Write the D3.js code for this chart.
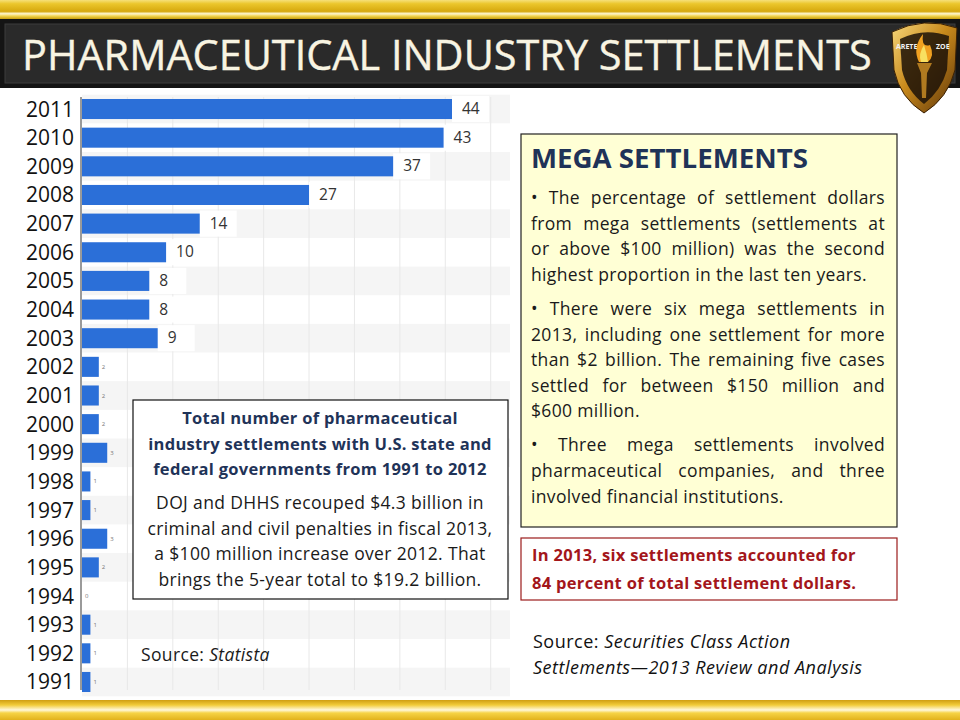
<!DOCTYPE html>
<html lang="en">
<head>
    <meta charset="UTF-8">
    <title>Pharmaceutical Industry Settlements</title>
    <script src="https://d3js.org/d3.v7.min.js"></script>
    <style>
        body { margin: 0; background: #fff; }
        svg { display: block; }
        text { font-family: "Open Sans", "Noto Sans", sans-serif; }
        .year { font-size: 21px; fill: #111; text-anchor: end; }
        .big-label { font-size: 15.5px; fill: #333; }
        .small-label { font-size: 6px; fill: #777; }
        .body { font-size: 17.5px; fill: #1a1a1a; letter-spacing: 0.35px; }
    </style>
</head>
<body>
    <svg id="chart" width="960" height="720"></svg>

    <script>
        // Data
        const years = [2011, 2010, 2009, 2008, 2007, 2006, 2005, 2004, 2003, 2002, 2001,
                       2000, 1999, 1998, 1997, 1996, 1995, 1994, 1993, 1992, 1991];
        const settlements = [44, 43, 37, 27, 14, 10, 8, 8, 9, 2, 2,
                             2, 3, 1, 1, 3, 2, 0, 1, 1, 1];
        const gridValues = [5.4, 10.8, 16.2, 21.6, 27, 32.4, 37.8, 43.2, 48.6];

        const boxTitle = ["Total number of pharmaceutical",
                          "industry settlements with U.S. state and",
                          "federal governments from 1991 to 2012"];
        const boxBody = ["DOJ and DHHS recouped $4.3 billion in",
                         "criminal and civil penalties in fiscal 2013,",
                         "a $100 million increase over 2012. That",
                         "brings the 5-year total to $19.2 billion."];
        const megaParagraphs = [
            ["• The percentage of settlement dollars",
             "from mega settlements  (settlements at",
             "or above $100 million) was  the second",
             "highest proportion in the last ten years."],
            ["• There were six mega settlements in",
             "2013, including one settlement for more",
             "than $2 billion. The remaining five cases",
             "settled for between $150 million and",
             "$600 million."],
            ["• Three mega settlements involved",
             "pharmaceutical companies, and three",
             "involved financial institutions."]
        ];
        const redNote = ["In 2013, six settlements accounted for",
                         "84 percent of total settlement dollars."];

        const svg = d3.select("#chart");
        const defs = svg.append("defs");

        // gold stripes
        const goldTop = defs.append("linearGradient").attr("id", "goldTop")
            .attr("x1", 0).attr("y1", 0).attr("x2", 0).attr("y2", 1);
        [[0, "#f6e07a"], [0.2, "#ebc62c"], [0.6, "#d6a80e"], [0.72, "#fff6cf"],
         [0.85, "#f1d24a"], [1, "#c99d10"]].forEach(s =>
            goldTop.append("stop").attr("offset", s[0]).attr("stop-color", s[1]));

        const goldBottom = defs.append("linearGradient").attr("id", "goldBottom")
            .attr("x1", 0).attr("y1", 0).attr("x2", 0).attr("y2", 1);
        [[0, "#cf9e12"], [0.25, "#f2cc3a"], [0.5, "#fff8dc"], [0.65, "#f6d345"],
         [1, "#e2b21c"]].forEach(s =>
            goldBottom.append("stop").attr("offset", s[0]).attr("stop-color", s[1]));

        const shieldGrad = defs.append("linearGradient").attr("id", "shield")
            .attr("x1", 0).attr("y1", 0).attr("x2", 1).attr("y2", 1);
        [[0, "#f7d77a"], [0.45, "#c98a1c"], [1, "#5a3208"]].forEach(s =>
            shieldGrad.append("stop").attr("offset", s[0]).attr("stop-color", s[1]));

        // Header
        svg.append("rect").attr("x", 0).attr("y", 0).attr("width", 960).attr("height", 19)
            .attr("fill", "url(#goldTop)");
        svg.append("rect").attr("x", 0).attr("y", 19).attr("width", 960).attr("height", 69)
            .attr("fill", "#141414");
        svg.append("rect").attr("x", 5).attr("y", 24).attr("width", 950).attr("height", 59)
            .attr("fill", "#2a2a2a").attr("stroke", "#3c3c3c");
        const title = svg.append("text")
            .attr("x", 22).attr("y", 70)
            .attr("font-size", 43)
            .attr("fill", "#f8f4e2")
            .attr("stroke", "#f8f4e2").attr("stroke-width", 0.4)
            .text("PHARMACEUTICAL INDUSTRY SETTLEMENTS");
        // scale the title so it ends where the reference one does
        const titleW = title.node().getComputedTextLength();
        title.attr("font-size", 43 * 850 / titleW);

        // Logo shield
        const logo = svg.append("g");
        logo.append("path")
            .attr("d", "M892,32 Q924,16 957,28 L955,70 Q948,98 924,113 Q900,98 894,70 Z")
            .attr("fill", "url(#shield)").attr("stroke", "#3a2004").attr("stroke-width", 1);
        logo.append("path")
            .attr("d", "M900,39 Q924,27 949,36 L947,70 Q941,91 924,104 Q907,91 902,70 Z")
            .attr("fill", "#1c1208").attr("opacity", 0.85);
        logo.append("path")
            .attr("d", "M919,62 Q912,48 923,34 Q921,48 930,45 Q935,56 928,62 Z")
            .attr("fill", "#f0a020");
        logo.append("path")
            .attr("d", "M921,62 Q918,54 924,45 Q927,54 928,62 Z")
            .attr("fill", "#f8e060");
        logo.append("path")
            .attr("d", "M917,63 L932,63 L927,73 L926,98 L922,98 L921,73 Z")
            .attr("fill", "#b07a20");
        logo.append("text").attr("x", 896).attr("y", 49).attr("font-size", 7)
            .attr("font-weight", "bold").attr("fill", "#f2f2f2").text("ARETE");
        logo.append("text").attr("x", 936).attr("y", 49).attr("font-size", 7)
            .attr("font-weight", "bold").attr("fill", "#f2f2f2").text("ZOE");

        // Bottom stripe
        svg.append("rect").attr("x", 0).attr("y", 700).attr("width", 960).attr("height", 20)
            .attr("fill", "url(#goldBottom)");

        // Bar chart
        const plotLeft = 82, plotRight = 510;
        const x = d3.scaleLinear().domain([0, 44]).range([plotLeft, 452]);
        const y = d3.scaleBand().domain(years).range([94.7, 696.3])
            .paddingInner(0.3).paddingOuter(0.15);
        const step = y.step();

        const chart = svg.append("g");

        chart.selectAll(".stripe")
            .data(years.filter((d, i) => i % 2 === 0))
            .join("rect")
            .attr("class", "stripe")
            .attr("x", plotLeft)
            .attr("y", d => y(d) + y.bandwidth() / 2 - step / 2)
            .attr("width", plotRight - plotLeft)
            .attr("height", step)
            .attr("fill", "#f5f5f5");

        chart.selectAll(".grid")
            .data(gridValues)
            .join("line")
            .attr("class", "grid")
            .attr("x1", d => x(d)).attr("x2", d => x(d))
            .attr("y1", 97).attr("y2", 690)
            .attr("stroke", "#e8e8e8");

        const rows = years.map((yr, i) => ({ year: yr, value: settlements[i] }));

        // white boxes behind value labels
        chart.selectAll(".label-bg")
            .data(rows.filter(d => d.value >= 8))
            .join("rect")
            .attr("class", "label-bg")
            .attr("x", d => x(d.value))
            .attr("y", d => y(d.year) - 3)
            .attr("width", 37)
            .attr("height", y.bandwidth() + 6)
            .attr("fill", "#fff");

        chart.selectAll(".bar")
            .data(rows)
            .join("rect")
            .attr("class", "bar")
            .attr("x", plotLeft)
            .attr("y", d => y(d.year))
            .attr("width", d => x(d.value) - plotLeft)
            .attr("height", y.bandwidth())
            .attr("fill", "#2b6fd8");

        chart.append("line")
            .attr("x1", plotLeft - 1).attr("x2", plotLeft - 1)
            .attr("y1", 97).attr("y2", 690)
            .attr("stroke", "#9a9a9a").attr("stroke-width", 2);

        chart.selectAll(".value")
            .data(rows)
            .join("text")
            .attr("class", d => d.value >= 8 ? "big-label" : "small-label")
            .attr("x", d => x(d.value) + (d.value >= 8 ? 10 : 3))
            .attr("y", d => y(d.year) + y.bandwidth() / 2 + (d.value >= 8 ? 5 : 2))
            .text(d => d.value);

        chart.selectAll(".year")
            .data(years)
            .join("text")
            .attr("class", "year")
            .attr("x", 74)
            .attr("y", d => y(d) + y.bandwidth() / 2 + 7.5)
            .text(d => d);

        // seam where the source image was cut
        chart.append("rect").attr("x", 20).attr("y", 231).attr("width", 60).attr("height", 6)
            .attr("fill", "#fff");

        // helper: keep a line inside a width
        function fit(sel, maxW) {
            const w = sel.node().getComputedTextLength();
            if (w > maxW) sel.attr("textLength", maxW).attr("lengthAdjust", "spacingAndGlyphs");
            return sel;
        }

        // Left annotation box
        svg.append("rect").attr("x", 133).attr("y", 400).attr("width", 375).attr("height", 199)
            .attr("fill", "#fff").attr("stroke", "#111").attr("stroke-width", 1.2);
        boxTitle.forEach((line, i) => {
            fit(svg.append("text")
                .attr("x", 320).attr("y", 424 + i * 25.5)
                .attr("text-anchor", "middle")
                .attr("font-size", 16.5).attr("font-weight", "bold")
                .attr("letter-spacing", 0.3)
                .attr("fill", "#1f3358")
                .text(line), 356);
        });
        boxBody.forEach((line, i) => {
            fit(svg.append("text")
                .attr("class", "body")
                .attr("x", 320).attr("y", 509 + i * 25.7)
                .attr("text-anchor", "middle")
                .text(line), 356);
        });

        svg.append("text").attr("class", "body").attr("x", 141).attr("y", 661)
            .call(t => {
                t.append("tspan").text("Source: ");
                t.append("tspan").attr("font-style", "italic").text("Statista");
            });

        // Mega settlements box
        svg.append("rect").attr("x", 521).attr("y", 134).attr("width", 376).attr("height", 393)
            .attr("fill", "#ffffd5").attr("stroke", "#222").attr("stroke-width", 1.2);
        svg.append("text")
            .attr("x", 531).attr("y", 168)
            .attr("font-size", 26).attr("font-weight", "bold")
            .attr("fill", "#1f3358")
            .attr("textLength", 277).attr("lengthAdjust", "spacingAndGlyphs")
            .text("MEGA SETTLEMENTS");

        function justified(line, x0, y0, width, justify) {
            const words = line.split(/\s+/);
            const t = svg.append("text").attr("class", "body").attr("x", x0).attr("y", y0);
            if (!justify) { fit(t.text(line), width); return; }
            const spans = words.map(w => t.append("tspan").text(w));
            const widths = spans.map(s => s.node().getComputedTextLength());
            const gap = (width - d3.sum(widths)) / (words.length - 1);
            let cx = x0;
            spans.forEach((s, i) => { s.attr("x", cx); cx += widths[i] + gap; });
        }

        const lineH = 25.6, paraGap = 8.5;
        let baseY = 204;
        megaParagraphs.forEach(par => {
            par.forEach((line, i) => {
                justified(line, 531, baseY, 354, i < par.length - 1);
                if (i < par.length - 1) baseY += lineH;
            });
            baseY += lineH + paraGap;
        });

        // Red note
        svg.append("rect").attr("x", 521).attr("y", 538).attr("width", 376).attr("height", 62)
            .attr("fill", "#fff").attr("stroke", "#9b1c1c").attr("stroke-width", 1.2);
        redNote.forEach((line, i) => {
            fit(svg.append("text")
                .attr("x", 532).attr("y", 561 + i * 28)
                .attr("font-size", 16.5).attr("font-weight", "bold")
                .attr("letter-spacing", 0.3)
                .attr("fill", "#a3161b")
                .text(line), 340);
        });

        // Right source
        svg.append("text").attr("x", 533).attr("y", 648).attr("font-size", 18)
            .attr("letter-spacing", 0.5).attr("fill", "#111")
            .call(t => {
                t.append("tspan").text("Source: ");
                t.append("tspan").attr("font-style", "italic").text("Securities Class Action");
            });
        fit(svg.append("text").attr("x", 533).attr("y", 674).attr("font-size", 18)
            .attr("letter-spacing", 0.5)
            .attr("fill", "#111").attr("font-style", "italic")
            .text("Settlements\u20142013 Review and Analysis"), 342);
    </script>
</body>
</html>
